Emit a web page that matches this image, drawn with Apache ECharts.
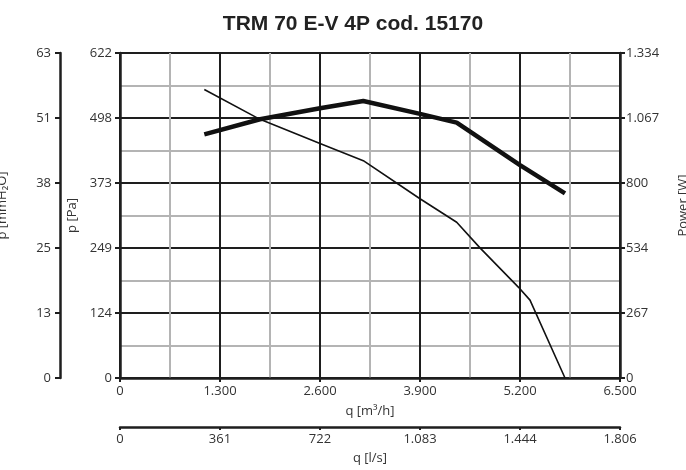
<!DOCTYPE html>
<html>
<head>
<meta charset="utf-8">
<script src="https://cdn.jsdelivr.net/npm/echarts@6/dist/echarts.min.js"></script>
<style>
html,body{margin:0;padding:0;background:#fff;}
#chart{width:686px;height:470px;}
</style>
</head>
<body>
<div id="chart"></div>
<script>
// ---- data ----
var titleText = 'TRM 70 E-V 4P cod. 15170';
// pressure curve (thin): q [m3/h], p [Pa]
var qPressure  = [1096, 1820, 2600, 3163, 3900, 4377, 4680, 5178, 5330, 5785];
var pressurePa = [552,  495,  449,  416,  343,  298,  249,  174,  149,  0];
// power curve (thick): q [m3/h], P [W]
var qPower  = [1096, 1820, 2600, 3163, 3900, 4377, 5200, 5785];
var powerW  = [1000, 1062, 1107, 1137, 1084, 1048, 874,  758];
// tick labels
var qM3hTicks = ['0', '1.300', '2.600', '3.900', '5.200', '6.500'];
var qLsTicks  = ['0', '361', '722', '1.083', '1.444', '1.806'];
var paTicks   = ['0', '124', '249', '373', '498', '622'];
var mmTicks   = ['0', '13', '25', '38', '51', '63'];
var wTicks    = ['0', '267', '534', '800', '1.067', '1.334'];

// ---- scales ----
var Q_MAX = 6500, PA_MAX = 622, W_MAX = 1334;
var Q_INT = Q_MAX / 5, PA_INT = PA_MAX / 5, W_INT = W_MAX / 5;

function pairs(xs, ys) { return xs.map(function (x, i) { return [x, ys[i]]; }); }
function fromArr(arr, step) { return function (v) { var k = Math.round(v / step); return arr[k] !== undefined ? arr[k] : ''; }; }

var dark = '#1e1e1e', grey = '#b4b4b4', txt = '#333';
var lblFont = { color: txt, fontSize: 13, fontFamily: 'Open Sans' };
var nameFont = { color: txt, fontSize: 13, fontFamily: 'Open Sans' };
var nameFontUp = { color: txt, fontSize: 13, fontFamily: 'Open Sans', padding: [0, 0, 0, 20] };

var chart = echarts.init(document.getElementById('chart'), null, { renderer: 'canvas' });
chart.setOption({
  animation: false,
  backgroundColor: '#fff',
  title: {
    text: titleText,
    left: 348, top: 9, textAlign: 'center',
    textStyle: { fontFamily: 'Liberation Sans', fontWeight: 'bold', fontSize: 21, color: '#222' }
  },
  grid: { left: 120, right: 66, top: 53, bottom: 92, containLabel: false, outerBoundsMode: 'none' },
  xAxis: [
    {
      type: 'value', min: 0, max: Q_MAX, interval: Q_INT, position: 'bottom',
      name: 'q [m³/h]', nameLocation: 'middle', nameGap: 27, nameTextStyle: nameFont,
      axisLine: { show: true, onZero: false, lineStyle: { color: dark, width: 2.5 } },
      axisTick: { show: true, length: 4, lineStyle: { color: dark, width: 2 } },
      axisLabel: Object.assign({ margin: 7, formatter: fromArr(qM3hTicks, Q_INT) }, lblFont),
      splitLine: { show: true, lineStyle: { color: dark, width: 2 } },
      minorTick: { show: false, splitNumber: 2 },
      minorSplitLine: { show: true, lineStyle: { color: grey, width: 2 } }
    },
    {
      type: 'value', min: 0, max: Q_MAX, interval: Q_INT, position: 'bottom', offset: 49,
      name: 'q [l/s]', nameLocation: 'middle', nameGap: 25, nameTextStyle: nameFont,
      axisLine: { show: true, onZero: false, lineStyle: { color: dark, width: 2.5 } },
      axisTick: { show: true, length: 3, lineStyle: { color: dark, width: 2 } },
      axisLabel: Object.assign({ margin: 6, formatter: fromArr(qLsTicks, Q_INT) }, lblFont),
      splitLine: { show: false }
    }
  ],
  yAxis: [
    {
      type: 'value', min: 0, max: PA_MAX, interval: PA_INT, position: 'left',
      name: 'p [Pa]', nameLocation: 'middle', nameGap: 37, nameRotate: 90, nameTextStyle: nameFont,
      axisLine: { show: true, onZero: false, lineStyle: { color: dark, width: 2.5 } },
      axisTick: { show: true, length: 5, lineStyle: { color: dark, width: 2 } },
      axisLabel: Object.assign({ margin: 8, formatter: fromArr(paTicks, PA_INT) }, lblFont),
      splitLine: { show: true, lineStyle: { color: dark, width: 2 } },
      minorTick: { show: false, splitNumber: 2 },
      minorSplitLine: { show: true, lineStyle: { color: grey, width: 2 } }
    },
    {
      type: 'value', min: 0, max: PA_MAX, interval: PA_INT, position: 'left', offset: 60,
      name: 'p [mmH₂O]', nameLocation: 'middle', nameGap: 51, nameRotate: 90, nameTextStyle: nameFontUp,
      axisLine: { show: true, onZero: false, lineStyle: { color: dark, width: 2.5 } },
      axisTick: { show: true, length: 5, lineStyle: { color: dark, width: 2 } },
      axisLabel: Object.assign({ margin: 9, formatter: fromArr(mmTicks, PA_INT) }, lblFont),
      splitLine: { show: false }
    },
    {
      type: 'value', min: 0, max: W_MAX, interval: W_INT, position: 'right',
      name: 'Power [W]', nameLocation: 'middle', nameGap: 57, nameRotate: 90, nameTextStyle: nameFontUp,
      axisLine: { show: true, onZero: false, lineStyle: { color: dark, width: 2.5 } },
      axisTick: { show: true, length: 5, lineStyle: { color: dark, width: 2 } },
      axisLabel: Object.assign({ margin: 6, formatter: fromArr(wTicks, W_INT) }, lblFont),
      splitLine: { show: false }
    }
  ],
  series: [
    {
      name: 'Pressure', type: 'line', xAxisIndex: 0, yAxisIndex: 0,
      data: pairs(qPressure, pressurePa), showSymbol: false, symbol: 'none',
      lineStyle: { color: '#111', width: 1.6 }, z: 5
    },
    {
      name: 'Power', type: 'line', xAxisIndex: 0, yAxisIndex: 2,
      data: pairs(qPower, powerW), showSymbol: false, symbol: 'none',
      lineStyle: { color: '#111', width: 4.5, join: 'round' }, z: 6
    }
  ]
});
</script>
</body>
</html>
